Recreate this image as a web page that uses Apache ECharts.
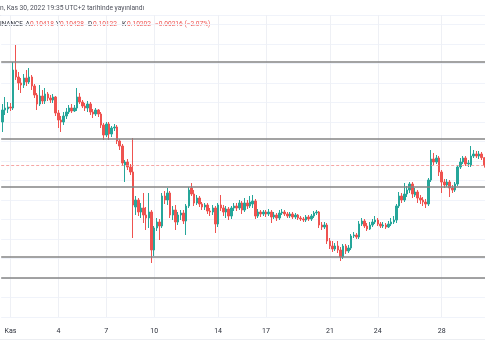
<!DOCTYPE html>
<html><head><meta charset="utf-8">
<script src="https://cdn.jsdelivr.net/npm/echarts@6/dist/echarts.min.js"></script>
<style>html,body{margin:0;padding:0;background:#fff}#c{width:485px;height:360px}</style>
</head><body><div id="c"></div>
<script>
// 4h candles, 2022-10-31 12:00 .. 2022-11-30 16:00
const openP = [
.1149,.1185,.1188,.1194,.1191,.1305,.1284,.1266,.1260,.1281,
.1269,.1284,.1257,.1230,.1203,.1227,.1212,.1233,.1221,.1215,
.1224,.1176,.1155,.1149,.1167,.1179,.1191,.1182,.1191,.1224,
.1209,.1197,.1191,.1203,.1179,.1173,.1185,.1173,.1140,.1110,
.1143,.1113,.1131,.1134,.1092,.1077,.1020,.1029,.1014,.0999,
.0894,.0915,.0879,.0891,.0870,.0861,.0879,.0765,.0831,.0849,
.0837,.0927,.0915,.0936,.0870,.0885,.0849,.0870,.0876,.0852,
.0897,.0951,.0933,.0906,.0921,.0903,.0894,.0900,.0882,.0879,
.0891,.0843,.0900,.0891,.0879,.0888,.0867,.0891,.0897,.0891,
.0906,.0885,.0906,.0897,.0903,.0912,.0867,.0879,.0873,.0879,
.0873,.0879,.0864,.0870,.0861,.0876,.0879,.0873,.0867,.0873,
.0864,.0870,.0861,.0858,.0855,.0864,.0858,.0867,.0876,.0879,
.0840,.0834,.0840,.0792,.0777,.0768,.0777,.0765,.0744,.0777,
.0762,.0771,.0807,.0810,.0804,.0843,.0852,.0837,.0828,.0840,
.0849,.0855,.0843,.0837,.0840,.0834,.0843,.0849,.0855,.0897,
.0927,.0915,.0933,.0945,.0963,.0930,.0939,.0921,.0915,.0909,
.0903,.0975,.1038,.1029,.1041,.0999,.0969,.0960,.0969,.0951,
.0945,.0963,.1014,.1029,.1041,.1023,.1020,.1047,.1053,.1047,
.1053,.10418];
const closeP = [
.1185,.1191,.1194,.1191,.1305,.1284,.1266,.1260,.1281,.1269,
.1284,.1257,.1230,.1203,.1227,.1212,.1233,.1221,.1215,.1224,
.1176,.1155,.1149,.1167,.1179,.1191,.1182,.1191,.1224,.1209,
.1197,.1191,.1203,.1179,.1173,.1185,.1173,.1140,.1110,.1143,
.1113,.1131,.1134,.1092,.1077,.1026,.1029,.1014,.0999,.0900,
.0915,.0879,.0891,.0870,.0861,.0879,.0765,.0831,.0849,.0837,
.0927,.0915,.0936,.0870,.0885,.0849,.0870,.0876,.0852,.0897,
.0945,.0933,.0906,.0921,.0903,.0894,.0900,.0882,.0879,.0891,
.0843,.0900,.0891,.0879,.0888,.0867,.0891,.0897,.0891,.0906,
.0885,.0906,.0897,.0909,.0912,.0867,.0879,.0873,.0879,.0873,
.0879,.0864,.0870,.0861,.0876,.0879,.0873,.0867,.0873,.0864,
.0870,.0861,.0858,.0855,.0864,.0858,.0867,.0876,.0879,.0840,
.0834,.0840,.0792,.0777,.0768,.0777,.0765,.0744,.0777,.0762,
.0771,.0807,.0810,.0804,.0843,.0852,.0837,.0828,.0840,.0849,
.0855,.0843,.0837,.0840,.0834,.0843,.0849,.0855,.0897,.0927,
.0915,.0933,.0945,.0963,.0933,.0939,.0921,.0915,.0909,.0903,
.0975,.1038,.1029,.1041,.0999,.0969,.0960,.0969,.0951,.0945,
.0963,.1014,.1029,.1041,.1023,.1026,.1047,.1053,.1047,.1053,
.1042,.10202];
const lowP = [
.1119,.1170,.1176,.1182,.1185,.1275,.1245,.1236,.1251,.1257,
.1263,.1245,.1221,.1185,.1197,.1203,.1203,.1212,.1206,.1206,
.1167,.1131,.1119,.1140,.1158,.1173,.1176,.1179,.1182,.1203,
.1191,.1182,.1179,.1170,.1161,.1167,.1164,.1131,.1095,.1104,
.1095,.1104,.1122,.1083,.1065,.1017,.0969,.1005,.0990,.0801,
.0870,.0867,.0861,.0846,.0825,.0831,.0726,.0747,.0822,.0795,
.0831,.0903,.0900,.0861,.0855,.0825,.0840,.0855,.0843,.0810,
.0891,.0927,.0897,.0900,.0894,.0885,.0885,.0873,.0867,.0870,
.0816,.0834,.0882,.0867,.0861,.0855,.0858,.0882,.0882,.0885,
.0873,.0879,.0888,.0891,.0891,.0858,.0861,.0864,.0867,.0864,
.0867,.0846,.0858,.0852,.0855,.0870,.0867,.0861,.0861,.0858,
.0858,.0855,.0852,.0849,.0849,.0852,.0852,.0861,.0870,.0831,
.0825,.0828,.0783,.0768,.0759,.0762,.0756,.0732,.0738,.0753,
.0756,.0765,.0801,.0798,.0798,.0837,.0831,.0822,.0825,.0834,
.0843,.0837,.0831,.0831,.0828,.0831,.0837,.0843,.0846,.0891,
.0906,.0909,.0924,.0936,.0921,.0924,.0906,.0903,.0897,.0891,
.0897,.0969,.1020,.1023,.0987,.0936,.0951,.0954,.0924,.0936,
.0939,.0957,.1008,.1023,.1017,.1014,.1014,.1041,.1041,.1038,
.1035,.10122];
const highP = [
.1203,.1224,.1209,.1206,.1329,.1380,.1299,.1281,.1293,.1305,
.1311,.1290,.1263,.1236,.1260,.1245,.1251,.1239,.1230,.1233,
.1227,.1185,.1167,.1179,.1191,.1200,.1203,.1200,.1251,.1236,
.1215,.1206,.1212,.1209,.1188,.1191,.1188,.1179,.1146,.1149,
.1149,.1137,.1143,.1140,.1098,.1083,.1035,.1038,.1023,.1101,
.0927,.0921,.0906,.0936,.0894,.0936,.0885,.0837,.0861,.0858,
.0936,.0942,.0951,.0942,.0897,.0900,.0879,.0885,.0885,.0903,
.0954,.0966,.0945,.0930,.0927,.0909,.0906,.0906,.0891,.0900,
.0897,.0906,.0930,.0900,.0897,.0894,.0897,.0906,.0906,.0915,
.0912,.0921,.0915,.0927,.0930,.0918,.0888,.0885,.0885,.0885,
.0888,.0885,.0879,.0876,.0885,.0888,.0885,.0879,.0879,.0879,
.0876,.0873,.0867,.0864,.0870,.0870,.0873,.0882,.0885,.0882,
.0849,.0849,.0846,.0801,.0792,.0786,.0792,.0774,.0783,.0783,
.0780,.0813,.0819,.0816,.0852,.0861,.0858,.0846,.0849,.0858,
.0867,.0861,.0849,.0849,.0846,.0852,.0861,.0867,.0903,.0939,
.0936,.0966,.0957,.0969,.0969,.0951,.0945,.0930,.0924,.0918,
.0981,.1065,.1056,.1050,.1047,.1005,.0978,.0978,.0975,.0960,
.0969,.1020,.1041,.1047,.1047,.1035,.1077,.1065,.1062,.1062,
.1059,.10428];

const tickDays = ['11-01','11-04','11-07','11-10','11-14','11-17','11-21','11-24','11-28'];
const tickLabels = ['Kas','4','7','10','14','17','21','24','28'];
const levels = [0.1329, 0.1098, 0.09555, 0.0744, 0.0681];
const lastClose = 0.10202;

const pad = n => (n < 10 ? '0' : '') + n;
const t0 = Date.UTC(2022, 9, 31, 12);
const categories = closeP.map((_, i) => {
  const d = new Date(t0 + i * 4 * 3600 * 1000);
  return pad(d.getUTCMonth() + 1) + '-' + pad(d.getUTCDate()) + ' ' + pad(d.getUTCHours()) + ':00';
});
const tickCats = tickDays.map(d => d + ' 00:00');
const isTick = v => tickCats.indexOf(v) >= 0;
const candles = closeP.map((c, i) => [openP[i], c, lowP[i], highP[i]]);

const FONT = 'Roboto, "Liberation Sans", Arial, sans-serif';
const chart = echarts.init(document.getElementById('c'));
const txt = (x, y, s, fill, size) => ({type:'text', x: x, y: y, silent:true,
  style:{text:s, fill:fill, fontSize:size, fontFamily:FONT, verticalAlign:'middle', align:'left'}});
const RED = '#ef5350', DARK = '#2a2e39';

chart.setOption({
  animation: false,
  backgroundColor: '#ffffff',
  grid: {left: 1.184, width: 484.4, top: 15, bottom: 43, containLabel: false, outerBoundsMode: 'none'},
  xAxis: {
    type: 'category', data: categories, boundaryGap: true,
    axisLine: {show: false}, axisTick: {show: false},
    axisLabel: {interval: (i, v) => isTick(v), formatter: v => tickLabels[tickCats.indexOf(v)] || '',
      fontSize: 7, color: DARK, margin: 11, fontFamily: FONT},
    splitLine: {show: true, interval: (i, v) => isTick(v), alignWithLabel: true, lineStyle: {color: '#eef0f5', width: 1}}
  },
  yAxis: [
    {type: 'value', min: 0.0564, max: 0.1470, show: false},
    {type: 'value', min: 0, max: 15.487, interval: 1, position: 'right',
     axisLine: {show: false}, axisTick: {show: false}, axisLabel: {show: false},
     splitLine: {show: true, lineStyle: {color: '#f0f3fa', width: 1}}}
  ],
  series: [{
    type: 'candlestick', data: candles, barWidth: 2, yAxisIndex: 0,
    itemStyle: {color: '#26a69a', color0: RED, borderColor: '#26a69a', borderColor0: RED, borderWidth: 1},
    markLine: {
      silent: true, symbol: ['none', 'none'], label: {show: false}, animation: false, precision: 6,
      data: levels.map(v => ({yAxis: v, lineStyle: {color: '#858585', width: 1.5, type: 'solid'}}))
        .concat([{yAxis: lastClose, lineStyle: {color: '#f4908e', width: 1, type: [3, 2], opacity: 0.8}}])
    }
  }],
  graphic: [
    {type: 'line', silent: true, shape: {x1: 0, y1: 15.5, x2: 485, y2: 15.5}, style: {stroke: '#e6e8ee', lineWidth: 1}},
    {type: 'line', silent: true, shape: {x1: 0, y1: 339.5, x2: 485, y2: 339.5}, style: {stroke: '#eceef2', lineWidth: 1}},
    txt(0, 8.3, 'n, Kas 30, 2022 19:35 UTC+2 tarihinde yayınlandı', '#50535e', 6.7),
    txt(0, 24.3, 'INANCE', DARK, 6.4),
    txt(25.5, 24.3, 'A', DARK, 6.6), txt(30, 24.3, '0.10418', RED, 6.6),
    txt(56, 24.3, 'Y', DARK, 6.6), txt(60, 24.3, '0.10428', RED, 6.6),
    txt(88, 24.3, 'D', DARK, 6.6), txt(93, 24.3, '0.10122', RED, 6.6),
    txt(122, 24.3, 'K', DARK, 6.6), txt(127, 24.3, '0.10202', RED, 6.6),
    txt(155, 24.3, '\u22120.00216 (\u22122.07%)', RED, 6.6)
  ]
});
</script></body></html>
